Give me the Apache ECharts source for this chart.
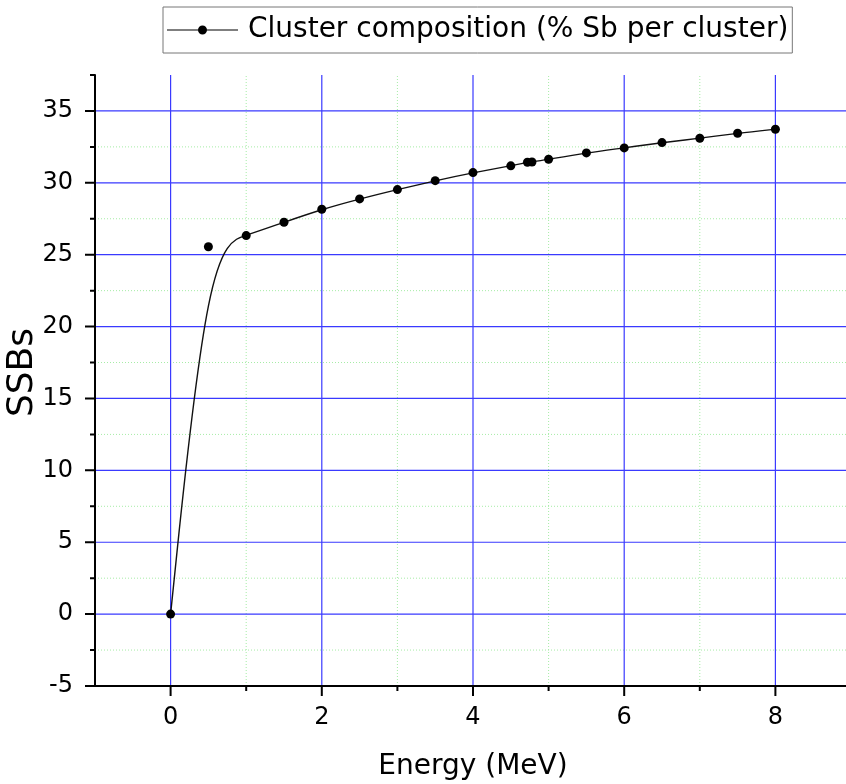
<!DOCTYPE html>
<html>
<head>
<meta charset="utf-8">
<script src="https://cdn.jsdelivr.net/npm/echarts@6/dist/echarts.min.js"></script>
<style>
  html, body { margin: 0; padding: 0; background: #fff; }
  #chart { width: 846px; height: 784px; }
</style>
</head>
<body>
<div id="chart"></div>
<script>
// Cluster composition versus energy
const energy = [0, 0.5, 1, 1.5, 2, 2.5, 3, 3.5, 4, 4.5, 4.72, 4.78, 5, 5.5, 6, 6.5, 7, 7.5, 8];
const ssbs = [0, 25.55, 26.33, 27.26, 28.16, 28.88, 29.53, 30.15, 30.71, 31.18, 31.43, 31.45, 31.64, 32.08, 32.43, 32.8, 33.1, 33.45, 33.73];

const seriesName = 'Cluster composition (% Sb per cluster)';
const xTitle = 'Energy (MeV)';
const yTitle = 'SSBs';

// axis ranges and tick positions
const xRange = [-1, 9];
const yRange = [-5, 37.5];
const xMajorTicks = [0, 2, 4, 6, 8];
const xMinorTicks = [1, 3, 5, 7];
const yMajorTicks = [-5, 0, 5, 10, 15, 20, 25, 30, 35];
const yMinorTicks = [-2.5, 2.5, 7.5, 12.5, 17.5, 22.5, 27.5, 32.5, 37.5];

const FONT = 'DejaVu Sans';
const points = energy.map((e, i) => [e, ssbs[i]]);

// grid lines and tick marks, placed with the cartesian scales
function renderFrame(params, api) {
  if (params.dataIndex !== 0) return null;
  const c = (x, y) => api.coord([x, y]).slice();
  const f = n => n.toFixed(2);
  const mk = segs => segs.map(s => 'M' + f(s[0][0]) + ',' + f(s[0][1]) + ' L' + f(s[1][0]) + ',' + f(s[1][1])).join(' ');
  const minorSegs = [], majorSegs = [], tickSegs = [];
  xMinorTicks.forEach(x => minorSegs.push([c(x, yRange[0]), c(x, yRange[1])]));
  yMinorTicks.filter(y => y < yRange[1]).forEach(y => minorSegs.push([c(xRange[0], y), c(xRange[1], y)]));
  xMajorTicks.forEach(x => majorSegs.push([c(x, yRange[0]), c(x, yRange[1])]));
  yMajorTicks.filter(y => y > yRange[0]).forEach(y => majorSegs.push([c(xRange[0], y), c(xRange[1], y)]));
  xMajorTicks.forEach(x => { const p = c(x, yRange[0]); tickSegs.push([p, [p[0], p[1] + 10]]); });
  xMinorTicks.forEach(x => { const p = c(x, yRange[0]); tickSegs.push([p, [p[0], p[1] + 5]]); });
  yMajorTicks.forEach(y => { const p = c(xRange[0], y); tickSegs.push([p, [p[0] - 10, p[1]]]); });
  yMinorTicks.forEach(y => { const p = c(xRange[0], y); tickSegs.push([p, [p[0] - 5, p[1]]]); });
  return {
    type: 'group',
    children: [
      { type: 'path', z2: 0, silent: true, shape: { pathData: mk(minorSegs) },
        style: { fill: null, stroke: '#a6eca6', lineWidth: 1, lineDash: [1, 2] } },
      { type: 'path', z2: 1, silent: true, shape: { pathData: mk(majorSegs) },
        style: { fill: null, stroke: '#3a3aff', lineWidth: 1.2 } },
      { type: 'path', z2: 2, silent: true, shape: { pathData: mk(tickSegs) },
        style: { fill: null, stroke: '#000', lineWidth: 2 } }
    ]
  };
}

// clamped uniform cubic B-spline with the data points as its control polygon
function renderCurve(params, api) {
  if (params.dataIndex !== 0) return null;
  const P = points.map(p => api.coord(p).slice());
  const Q = [P[0], P[0]].concat(P, [P[P.length - 1], P[P.length - 1]]);
  const f = n => n.toFixed(2);
  let d = 'M' + f(Q[0][0]) + ',' + f(Q[0][1]);
  for (let i = 1; i < Q.length - 2; i++) {
    const b = Q[i], q = Q[i + 1], e = Q[i + 2];
    const c1 = [(2 * b[0] + q[0]) / 3, (2 * b[1] + q[1]) / 3];
    const c2 = [(b[0] + 2 * q[0]) / 3, (b[1] + 2 * q[1]) / 3];
    const end = [(b[0] + 4 * q[0] + e[0]) / 6, (b[1] + 4 * q[1] + e[1]) / 6];
    d += ' C' + f(c1[0]) + ',' + f(c1[1]) + ' ' + f(c2[0]) + ',' + f(c2[1]) + ' ' + f(end[0]) + ',' + f(end[1]);
  }
  return {
    type: 'path', silent: true,
    shape: { pathData: d },
    style: { fill: null, stroke: '#111', lineWidth: 1.4 }
  };
}

const chart = echarts.init(document.getElementById('chart'), null, { renderer: 'canvas' });
chart.setOption({
  animation: false,
  backgroundColor: '#fff',
  grid: { left: 95, top: 75, right: -5, bottom: 98, containLabel: false, outerBoundsMode: 'none' },
  legend: {
    left: 163, top: 7,
    padding: [9, 4, 9, 4],
    borderColor: '#777', borderWidth: 1,
    itemWidth: 71, itemHeight: 9,
    selectedMode: false,
    itemStyle: { opacity: 1 },
    textStyle: { fontFamily: FONT, fontSize: 28, color: '#000', padding: [0, 0, 0, 5] },
    data: [{
      name: seriesName,
      icon: 'path://M0,4 H71 V5 H0 Z M40,4.5 A4.5,4.5 0 1 1 31,4.5 A4.5,4.5 0 1 1 40,4.5 Z'
    }]
  },
  xAxis: {
    type: 'value', min: xRange[0], max: xRange[1], interval: 1, z: 3,
    name: xTitle, nameLocation: 'middle', nameGap: 67,
    nameTextStyle: { fontFamily: FONT, fontSize: 28, color: '#000' },
    axisLine: { onZero: false, lineStyle: { color: '#000', width: 2 } },
    axisTick: { show: false },
    splitLine: { show: false },
    axisLabel: {
      fontFamily: FONT, fontSize: 24, color: '#000', margin: 20,
      formatter: v => (xMajorTicks.indexOf(v) >= 0 ? String(v) : '')
    }
  },
  yAxis: {
    type: 'value', min: yRange[0], max: yRange[1], interval: 5, z: 3,
    name: yTitle, nameLocation: 'middle', nameGap: 54, nameMoveOverlap: false,
    nameTextStyle: { fontFamily: FONT, fontSize: 36, color: '#000', padding: [0, 0, 0, 16] },
    axisLine: { onZero: false, lineStyle: { color: '#000', width: 2 } },
    axisTick: { show: false },
    splitLine: { show: false },
    axisLabel: {
      fontFamily: FONT, fontSize: 24, color: '#000', margin: 22,
      formatter: v => (yMajorTicks.indexOf(v) >= 0 ? String(v) : '')
    }
  },
  series: [
    {
      type: 'custom', name: 'frame', silent: true, clip: false, z: 1,
      renderItem: renderFrame, data: [[0, 0]]
    },
    {
      type: 'custom', name: 'curve', silent: true, clip: false, z: 3,
      renderItem: renderCurve, data: [points[0]]
    },
    {
      type: 'scatter', name: seriesName, z: 4,
      symbol: 'circle', symbolSize: 9,
      itemStyle: { color: '#000', opacity: 1 },
      data: points
    }
  ]
});
</script>
</body>
</html>
